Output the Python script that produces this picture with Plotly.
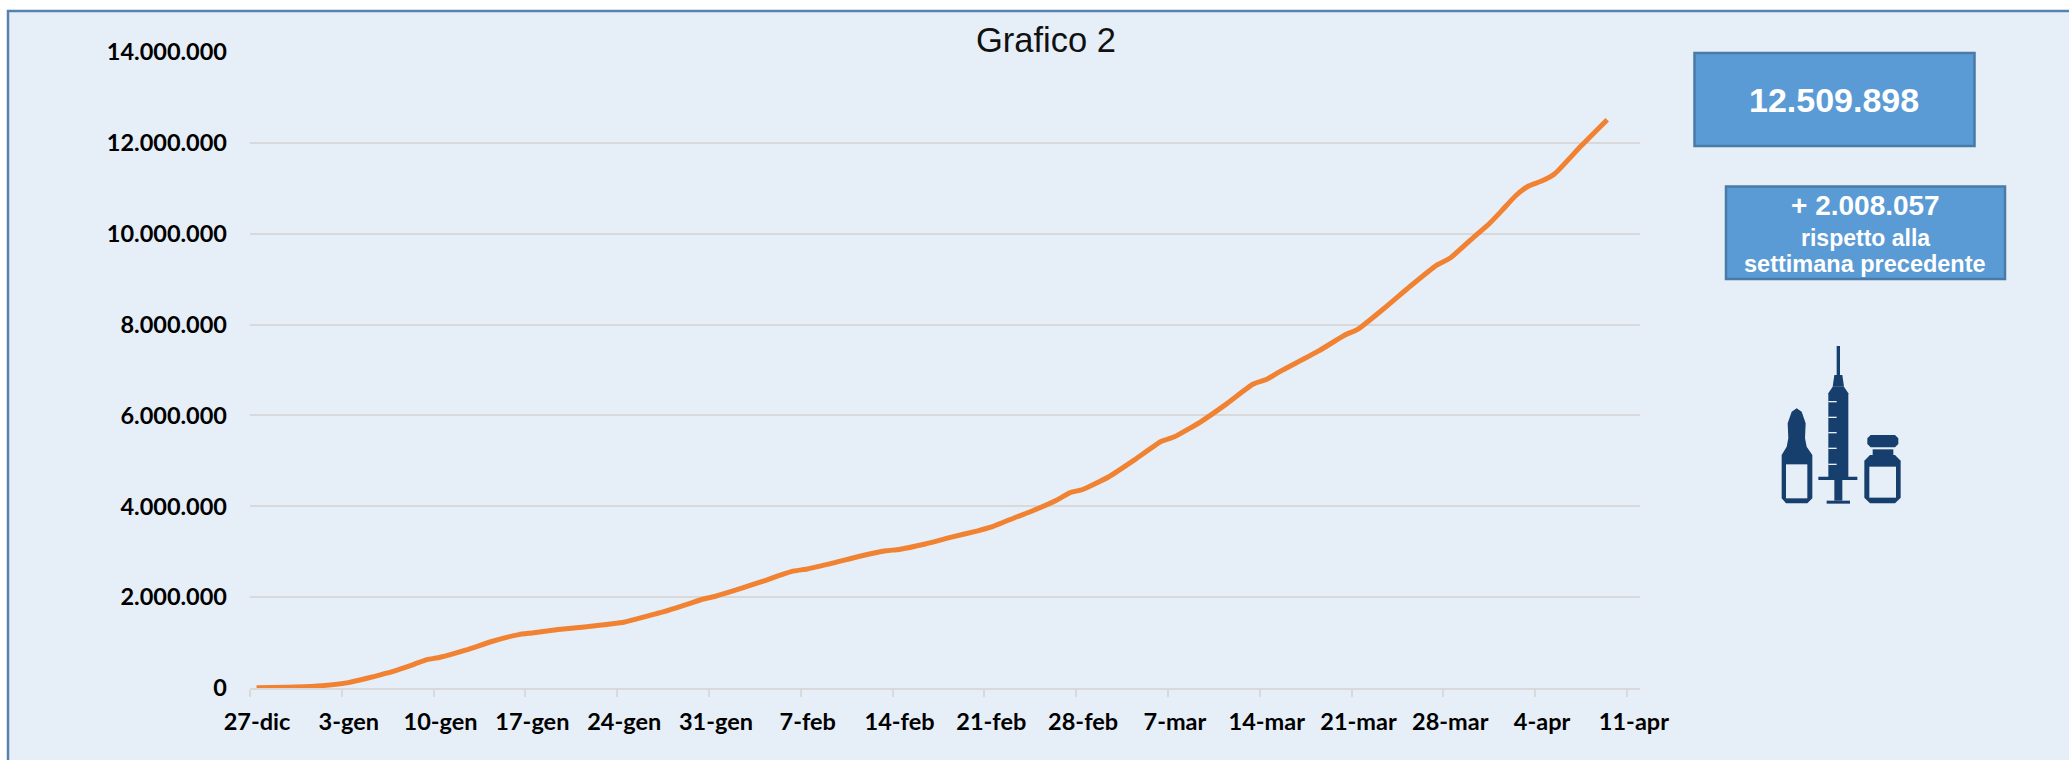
import datetime as dt
import plotly.graph_objects as go

# ---- data
dates = ["2020-12-27","2020-12-30","2021-01-01","2021-01-03","2021-01-06","2021-01-08","2021-01-09","2021-01-10",
         "2021-01-12","2021-01-14","2021-01-16","2021-01-17","2021-01-19","2021-01-21","2021-01-23","2021-01-24",
         "2021-01-25","2021-01-26","2021-01-27","2021-01-29","2021-01-30","2021-01-31","2021-02-02","2021-02-04",
         "2021-02-05","2021-02-06","2021-02-07","2021-02-09","2021-02-11","2021-02-13","2021-02-14","2021-02-16",
         "2021-02-18","2021-02-20","2021-02-21","2021-02-23","2021-02-24","2021-02-26","2021-02-27","2021-02-28",
         "2021-03-02","2021-03-04","2021-03-06","2021-03-07","2021-03-09","2021-03-11","2021-03-13","2021-03-14",
         "2021-03-15","2021-03-18","2021-03-20","2021-03-21","2021-03-23","2021-03-25","2021-03-27","2021-03-28",
         "2021-03-30","2021-03-31","2021-04-01","2021-04-02","2021-04-03","2021-04-04","2021-04-05","2021-04-07",
         "2021-04-09"]
doses = [7000,23000,52000,118000,331000,522000,625000,676000,
         838000,1029000,1175000,1212000,1286000,1344000,1410000,1447000,
         1520000,1600000,1675000,1858000,1954000,2020000,2196000,2387000,
         2490000,2577000,2620000,2754000,2900000,3020000,3050000,3170000,
         3320000,3460000,3540000,3770000,3880000,4134000,4295000,4370000,
         4650000,5030000,5430000,5530000,5860000,6260000,6690000,6790000,
         6960000,7420000,7770000,7900000,8360000,8850000,9310000,9460000,
         9970000,10220000,10520000,10830000,11050000,11160000,11320000,11930000,
         12509898]
x_tick_dates = ["2020-12-27","2021-01-03","2021-01-10","2021-01-17","2021-01-24","2021-01-31","2021-02-07",
                "2021-02-14","2021-02-21","2021-02-28","2021-03-07","2021-03-14","2021-03-21","2021-03-28",
                "2021-04-04","2021-04-11"]
x_tick_labels = ["27-dic","3-gen","10-gen","17-gen","24-gen","31-gen","7-feb","14-feb","21-feb","28-feb",
                 "7-mar","14-mar","21-mar","28-mar","4-apr","11-apr"]
y_tick_values = [0,2000000,4000000,6000000,8000000,10000000,12000000,14000000]
y_tick_labels = ["0","2.000.000","4.000.000","6.000.000","8.000.000","10.000.000","12.000.000","14.000.000"]
title_text = "Grafico 2"
total_text = "12.509.898"
delta_text = "+ 2.008.057"
delta_note = ["rispetto alla", "settimana precedente"]

# ---- geometry and styling
W, H = 2069, 760
L, R, T, B = 250, 1640, 52, 688
PANEL = "#E6EEF7"
NAVY = "#173F6E"
BOX = "#5B9BD5"
EDGE = "#4A7BA8"

def xp(px): return (px - L) / (R - L)
def yp(py): return (B - py) / (B - T)
def zx(v): return 1650 + v / 3
def zy(v): return 30 + v / 3

shapes = []
def rect(x0, y0, x1, y1, fill, line=None, lw=0, layer="above"):
    shapes.append(dict(type="rect", xref="paper", yref="paper", x0=xp(x0), x1=xp(x1), y0=yp(y1), y1=yp(y0),
                       fillcolor=fill, line=dict(color=line or fill, width=lw), layer=layer))
def zrect(x0, y0, x1, y1, fill=NAVY):
    rect(zx(x0), zy(y0), zx(x1), zy(y1), fill)
def zpoly(points, fill=NAVY):
    d = "M " + " L ".join(f"{xp(zx(a)):.5f},{yp(zy(b)):.5f}" for a, b in points) + " Z"
    shapes.append(dict(type="path", xref="paper", yref="paper", path=d, fillcolor=fill,
                       line=dict(color=fill, width=0), layer="above"))

# panel and boxes
rect(8, 11, W + 10, H + 10, PANEL, "#5583AE", 2.5, layer="below")
rect(1694.5, 53, 1974.5, 146, BOX, EDGE, 2.5)
rect(1726, 186.5, 2005, 279, BOX, EDGE, 2.5)

# syringe
zrect(560, 948, 570, 1035)
zpoly([(553,1035),(577,1035),(582,1070),(548,1070)])
zpoly([(548,1070),(582,1070),(595,1090),(595,1345),(535,1345),(535,1090)])
for ty in (1115, 1162, 1208, 1255, 1303):
    zrect(535, ty - 2, 560, ty + 2, PANEL)
zrect(505, 1340, 622, 1350)
zrect(553, 1350, 577, 1412)
zrect(530, 1412, 600, 1421)
# ampoule
zpoly([(440,1135),(455,1145),(467,1180),(465,1225),(470,1250),(487,1275),(487,1405),(472,1420),
       (408,1420),(395,1405),(395,1275),(410,1250),(415,1225),(413,1180),(425,1145)])
zrect(408, 1303, 472, 1405, PANEL)
# vial
zpoly([(662,1215),(735,1215),(745,1225),(745,1242),(735,1252),(662,1252),(652,1242),(652,1225)])
zrect(668, 1258, 730, 1280)
zpoly([(660,1275),(735,1275),(752,1292),(752,1403),(735,1420),(660,1420),(643,1403),(643,1292)])
zrect(658, 1310, 738, 1403, PANEL)

def label(text, cx, cy, size, color="white", bold=True, family="Liberation Sans"):
    return dict(text=f"<b>{text}</b>" if bold else text, xref="paper", yref="paper", x=xp(cx), y=yp(cy),
                xanchor="center", yanchor="middle", showarrow=False,
                font=dict(family=family, size=size, color=color))

annotations = [
    label(title_text, 1046, 40, 34.5, color="#111111", bold=False),
    label(total_text, 1834, 100, 34),
    label(delta_text, 1865, 205, 28),
    label(delta_note[0], 1865, 238, 23),
    label(delta_note[1], 1865, 264, 23.5),
]

fig = go.Figure(go.Scatter(x=dates, y=doses, mode="lines",
                           line=dict(color="#F08232", width=5, shape="spline", smoothing=0.5),
                           hoverinfo="skip", showlegend=False))

tick_positions = [(dt.datetime.fromisoformat(d) - dt.timedelta(hours=12)).isoformat() for d in x_tick_dates]

fig.update_layout(
    width=W, height=H, autosize=False,
    margin=dict(l=L, r=W - R, t=T, b=H - B, pad=0),
    paper_bgcolor="white", plot_bgcolor="rgba(0,0,0,0)",
    showlegend=False, shapes=shapes, annotations=annotations,
    font=dict(family="Lato", color="#0A0A0A"),
    xaxis=dict(type="date", range=["2020-12-26T12:00:00", "2021-04-11T12:00:00"],
               tickmode="array", tickvals=tick_positions, ticktext=[f"<b>{t}</b>" for t in x_tick_labels],
               ticks="outside", ticklen=7, tickwidth=1.5, tickcolor="#D9D9D9",
               showline=True, linecolor="#D9D9D9", linewidth=1.5, showgrid=False, zeroline=False,
               tickangle=0, tickfont=dict(family="Lato", size=23.5, color="#000000"),
               ticklabelshift=7, ticklabelstandoff=5),
    yaxis=dict(range=[0, 14000000], tickmode="array", tickvals=y_tick_values,
               ticktext=[f"<b>{t}</b>" for t in y_tick_labels], ticks="", showline=False,
               showgrid=True, gridcolor="#D9D9D9", gridwidth=1.5, zeroline=False,
               tickfont=dict(family="Lato", size=23.5, color="#000000"), ticklabelstandoff=22),
)

fig.write_html("out.html", config=dict(displayModeBar=False),
               post_script="document.body.style.margin='0';document.documentElement.style.overflow='hidden';")
